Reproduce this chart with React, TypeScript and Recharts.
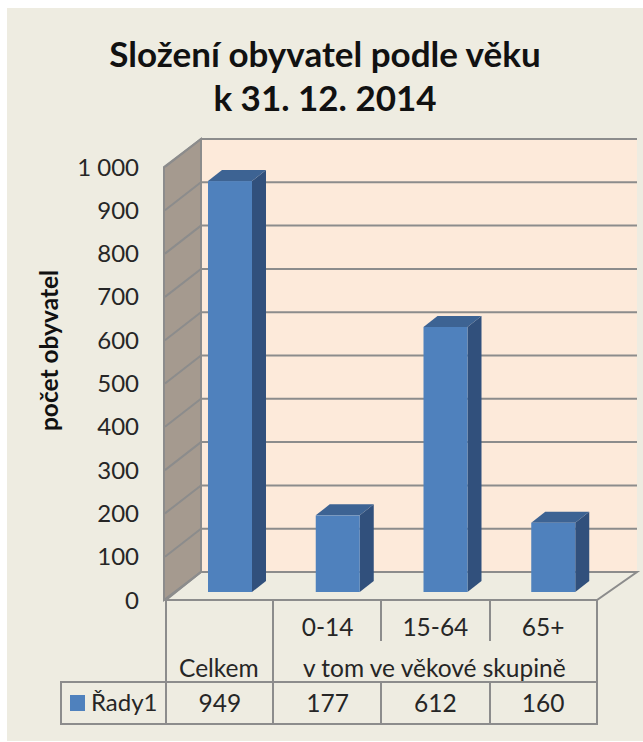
import { BarChart, Bar, XAxis, YAxis, CartesianGrid } from 'recharts'

const categories = ['Celkem', '0-14', '15-64', '65+']
const values = [949, 177, 612, 160]
const yTicks = [0, 100, 200, 300, 400, 500, 600, 700, 800, 900, 1000]
const titleLines = ['Složení obyvatel podle věku', 'k 31. 12. 2014']
const groupLabel = 'v tom ve věkové skupině'
const seriesName = 'Řady1'
const yTitle = 'počet obyvatel'

const data = categories.map((name, i) => ({ name, value: values[i] }))

const W = 643
const H = 742
const FONT = 'Lato, "Open Sans", sans-serif'
const INK = '#262626'
const LINE = '#8c8c8c'

// the plot area is the front plane of the fake 3D box
const LEFT = 166
const RIGHT = 597
const TOP = 167
const BOTTOM = 600
const WALL_DX = 35
const WALL_DY = 28
const WALL_RIGHT = 637
const STEP = (RIGHT - LEFT) / categories.length

function Box3D(props: any) {
  const { x, y, width, height } = props
  const l = x + 10
  const t = y - 8
  const r = l + width
  const b = t + height
  const dx = 14
  const dy = 11
  return (
    <g>
      <polygon points={`${r},${t} ${r + dx},${t - dy} ${r + dx},${b - dy} ${r},${b}`} fill="#31507c" />
      <polygon points={`${l},${t} ${l + dx},${t - dy} ${r + dx},${t - dy} ${r},${t}`} fill="#3d6393" />
      <rect x={l} y={t} width={width} height={height} fill="#4f81bd" />
    </g>
  )
}

function GridLine(props: any) {
  const { x1, y1 } = props
  return (
    <path
      d={`M${x1 - 1},${y1} L${x1 + WALL_DX},${y1 - WALL_DY} L${WALL_RIGHT},${y1 - WALL_DY}`}
      fill="none"
      stroke={LINE}
      strokeWidth={2}
    />
  )
}

function TableTick(props: any) {
  const { x, index, payload } = props
  const name = payload.value
  const common = { fontFamily: FONT, fontSize: 24.5, fill: INK, textAnchor: 'middle' as const }
  return (
    <g>
      {index === 0 ? (
        <text x={x - 1} y={677} {...common}>{name}</text>
      ) : (
        <text x={x} y={636} {...common}>{name}</text>
      )}
      {index === 1 && (
        <text x={x + STEP - 1} y={677} {...common}>{groupLabel}</text>
      )}
      <text x={x} y={712} {...common}>{values[index]}</text>
    </g>
  )
}

function Backdrop() {
  const line = { stroke: LINE, strokeWidth: 2 }
  return (
    <svg width={W} height={H} style={{ position: 'absolute', left: 0, top: 0 }}>
      <rect x={7} y={8} width={W - 7} height={H - 9} fill="#eeece1" />
      <rect x={LEFT + WALL_DX} y={TOP - WALL_DY} width={WALL_RIGHT - LEFT - WALL_DX} height={BOTTOM - TOP} fill="#fdeada" />
      <polygon
        points={`${LEFT - 2},${TOP} ${LEFT + WALL_DX},${TOP - WALL_DY} ${LEFT + WALL_DX},${BOTTOM - WALL_DY} ${LEFT - 2},${BOTTOM}`}
        fill="#a59a8f"
        stroke={LINE}
        strokeWidth={2}
      />
      <polygon
        points={`${LEFT},${BOTTOM} ${LEFT + WALL_DX},${BOTTOM - WALL_DY} ${WALL_RIGHT},${BOTTOM - WALL_DY} ${RIGHT},${BOTTOM}`}
        fill="#eeece1"
        stroke={LINE}
        strokeWidth={2}
      />
      <line x1={LEFT} y1={BOTTOM} x2={LEFT} y2={724} {...line} />
      <line x1={273} y1={BOTTOM} x2={273} y2={724} {...line} />
      <line x1={381} y1={BOTTOM} x2={381} y2={641} {...line} />
      <line x1={490} y1={BOTTOM} x2={490} y2={641} {...line} />
      <line x1={381} y1={682} x2={381} y2={724} {...line} />
      <line x1={490} y1={682} x2={490} y2={724} {...line} />
      <line x1={RIGHT} y1={BOTTOM} x2={RIGHT} y2={724} {...line} />
      <line x1={61} y1={682} x2={61} y2={724} {...line} />
      <line x1={60} y1={682} x2={RIGHT + 1} y2={682} {...line} />
      <line x1={60} y1={724} x2={RIGHT + 1} y2={724} {...line} />
    </svg>
  )
}

export default function App() {
  return (
    <div style={{ position: 'absolute', left: 0, top: 0, width: W, height: H, background: '#fff', overflow: 'hidden' }}>
      <Backdrop />
      <div style={{ position: 'absolute', left: 0, top: 0 }}>
        <BarChart
          width={W}
          height={H}
          data={data}
          margin={{ top: TOP, right: W - RIGHT, bottom: 42, left: LEFT - 100 }}
        >
          <text x={325} y={67} textAnchor="middle" fontFamily={FONT} fontWeight={700} fontSize={35} fill="#111">{titleLines[0]}</text>
          <text x={325} y={111} textAnchor="middle" fontFamily={FONT} fontWeight={700} fontSize={35} fill="#111">{titleLines[1]}</text>
          <text x={91} y={711} fontFamily={FONT} fontSize={24} fill={INK}>{seriesName}</text>
          <rect x={70} y={695} width={15} height={16} fill="#4f81bd" />
          <CartesianGrid vertical={false} horizontal={GridLine} />
          <XAxis
            dataKey="name"
            height={100}
            axisLine={false}
            tickLine={false}
            interval={0}
            tick={TableTick}
          />
          <YAxis
            width={100}
            domain={[0, 1000]}
            ticks={yTicks}
            interval={0}
            axisLine={false}
            tickLine={false}
            tickSize={0}
            tickMargin={27}
            tickFormatter={(v: number) => (v === 1000 ? '1 000' : String(v))}
            tick={{ fontFamily: FONT, fontSize: 24, fill: INK }}
            label={{
              value: yTitle,
              angle: -90,
              position: 'insideLeft',
              dx: -22,
              dy: -33,
              style: { fontFamily: FONT, fontWeight: 700, fontSize: 24.5, fill: '#111', textAnchor: 'middle' },
            }}
          />
          <Bar dataKey="value" barSize={44} shape={Box3D} isAnimationActive={false} />
        </BarChart>
      </div>
    </div>
  )
}
